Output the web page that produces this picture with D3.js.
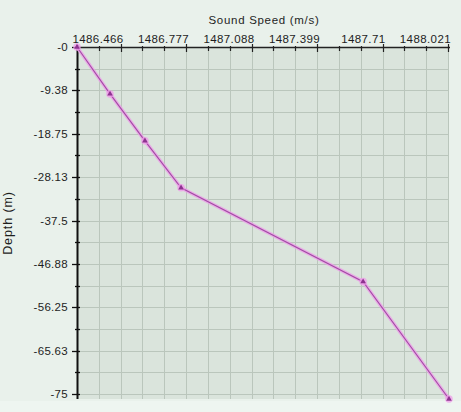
<!DOCTYPE html>
<html>
<head>
<meta charset="utf-8">
<script src="https://cdn.jsdelivr.net/npm/d3@7"></script>
<style>
  html, body { margin: 0; padding: 0; background: #e9f1eb; }
  svg { display: block; }
  text { font-family: "Liberation Sans", Arial, sans-serif; fill: #1e1e1e; }
</style>
</head>
<body>
<svg id="chart" width="461" height="412"></svg>
<script>
// ---- data ----
const depths = [0, 10, 20, 30, 50, 75];                 // m (shown negative)
const speeds = [1486.466, 1486.604, 1486.750, 1486.901, 1487.662, 1488.021]; // m/s
const speedTickLabels = ["1486.466", "1486.777", "1487.088", "1487.399", "1487.71", "1488.021"];
const depthTickLabels = ["-0", "-9.38", "-18.75", "-28.13", "-37.5", "-46.88", "-56.25", "-65.63", "-75"];
const xTitle = "Sound Speed (m/s)";
const yTitle = "Depth (m)";

(function () {
const svg = d3.select("#chart");
const W = 461, H = 412;
const pL = 77, pR = 449, pT = 47, pB = 399;

// data scales
const x = d3.scaleLinear().domain([d3.min(speeds), d3.max(speeds)]).range([pL, pR]);
const y = d3.scaleLinear().domain([0, 75]).range([pT, pB]);

// grid scales (the original draws its grid / labels on a cell lattice)
const nx = 17, ny = 16;
const gx = d3.scaleLinear().domain([0, nx]).range([pL, 448]);
const gy = d3.scaleLinear().domain([0, ny]).range([pT, 394]);

// background strips
svg.append("rect").attr("x", 0).attr("y", 0).attr("width", W).attr("height", H).attr("fill", "#e9f1eb");
svg.append("rect").attr("x", 0).attr("y", 401).attr("width", W).attr("height", H - 401).attr("fill", "#eef5f0");

// plot area
svg.append("rect").attr("x", pL).attr("y", pT).attr("width", 448 - pL).attr("height", pB - pT)
  .attr("fill", "#dae4dc");

// grid
const grid = svg.append("g").attr("stroke", "#bac6bc").attr("stroke-width", 1);
grid.selectAll("line.v").data(d3.range(1, nx + 1)).join("line")
  .attr("x1", d => Math.round(gx(d)) + 0.5).attr("x2", d => Math.round(gx(d)) + 0.5)
  .attr("y1", pT).attr("y2", pB);
grid.selectAll("line.h").data(d3.range(1, ny + 1)).join("line")
  .attr("y1", d => Math.round(gy(d)) + 0.5).attr("y2", d => Math.round(gy(d)) + 0.5)
  .attr("x1", pL).attr("x2", 448);

// top axis
const ax = svg.append("g").attr("stroke", "#222");
ax.append("line").attr("x1", pL).attr("x2", 450).attr("y1", pT + 0.5).attr("y2", pT + 0.5).attr("stroke-width", 1.6);
ax.selectAll("line.tx").data(d3.range(0, nx + 1)).join("line")
  .attr("x1", d => Math.round(gx(d)) + 0.5).attr("x2", d => Math.round(gx(d)) + 0.5)
  .attr("y1", d => (d % 3 === 2) ? pT - 3 : pT - 1)
  .attr("y2", d => (d % 3 === 2) ? pT + 5 : pT + 4)
  .attr("stroke-width", 1.2);

// left axis
const ay = svg.append("g").attr("stroke", "#111");
ay.append("line").attr("x1", pL + 0.5).attr("x2", pL + 0.5).attr("y1", pT - 2).attr("y2", pB).attr("stroke-width", 2);
ay.selectAll("line.ty").data(d3.range(0, ny + 1)).join("line")
  .attr("y1", d => Math.round(gy(d)) + 0.5).attr("y2", d => Math.round(gy(d)) + 0.5)
  .attr("x1", d => d % 2 === 0 ? pL - 5 : pL - 2).attr("x2", pL + 3)
  .attr("stroke-width", 1.3);

// x tick labels (right aligned at every third grid cell)
svg.append("g").selectAll("text").data(speedTickLabels).join("text")
  .attr("x", (d, i) => gx(2 + 3 * i) + 3)
  .attr("y", 43)
  .attr("text-anchor", "end")
  .attr("font-size", 11.5)
  .attr("letter-spacing", 0.4)
  .text(d => d);

// y tick labels
svg.append("g").selectAll("text").data(depthTickLabels).join("text")
  .attr("x", 68)
  .attr("y", (d, i) => gy(2 * i) + 4)
  .attr("text-anchor", "end")
  .attr("font-size", 11.5)
  .attr("letter-spacing", 0.3)
  .text(d => d);

// titles
svg.append("text").attr("x", 264).attr("y", 24).attr("text-anchor", "middle")
  .attr("font-size", 11.5).attr("letter-spacing", 0.7).text(xTitle);
svg.append("text").attr("transform", "translate(12,223) rotate(-90)").attr("text-anchor", "middle")
  .attr("font-size", 12.5).attr("letter-spacing", 0.9).text(yTitle);

// profile line
const pts = depths.map((d, i) => [speeds[i], d]);
const line = d3.line().x(d => x(d[0])).y(d => y(d[1]));
svg.append("path").datum(pts).attr("d", line).attr("fill", "none")
  .attr("stroke", "#ec9ee8").attr("stroke-width", 3.6).attr("stroke-opacity", 0.8);
svg.append("path").datum(pts).attr("d", line).attr("fill", "none")
  .attr("stroke", "#a24aa4").attr("stroke-width", 1.1);

// markers
svg.append("g").selectAll("circle").data(pts).join("circle")
  .attr("cx", d => x(d[0])).attr("cy", d => y(d[1])).attr("r", 3.8)
  .attr("fill", "#ef9cea").attr("fill-opacity", 0.75);
svg.append("g").selectAll("path").data(pts).join("path")
  .attr("transform", d => `translate(${x(d[0])},${y(d[1])})`)
  .attr("d", d3.symbol(d3.symbolTriangle, 14))
  .attr("fill", "#8e3290");
})();
</script>
</body>
</html>
